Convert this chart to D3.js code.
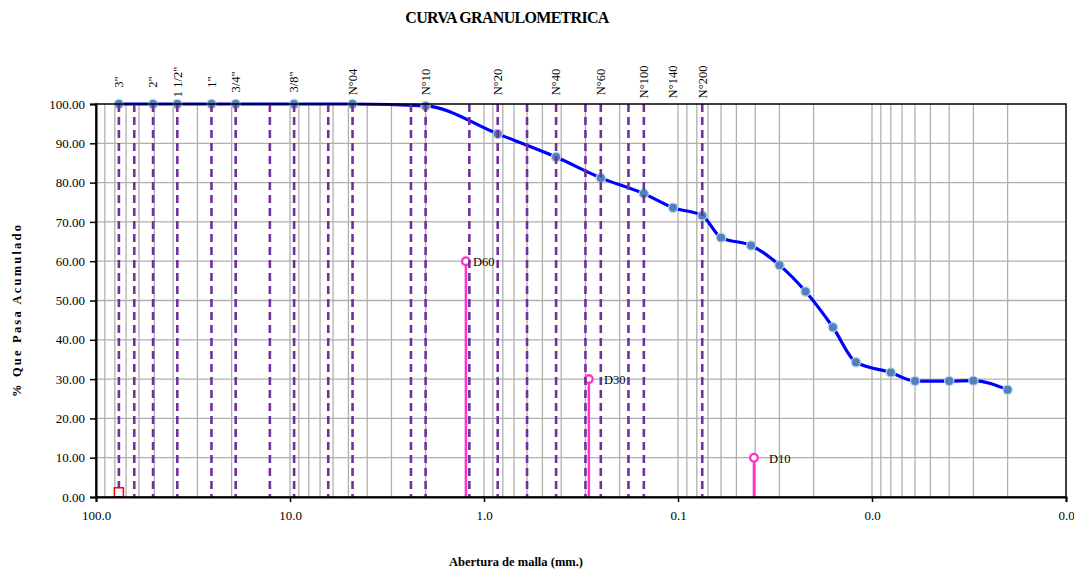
<!DOCTYPE html>
<html>
<head>
<meta charset="utf-8">
<script src="https://cdn.jsdelivr.net/npm/d3@7"></script>
<style>
  html, body { margin: 0; padding: 0; background: #fff; }
  svg { display: block; font-family: "Liberation Serif", "Times New Roman", serif; }
</style>
</head>
<body>
<svg id="chart" width="1074" height="571"></svg>
<script>
// Sieve names written along the top, and the opening (mm) each one sits at
const sieveLabels = ['3"', '2"', '1 1/2"', '1"', '3/4"', '3/8"', 'N°04', 'N°10', 'N°20', 'N°40', 'N°60', 'N°100', 'N°140', 'N°200'];
const sieveLabelMm = [76.2, 50.8, 38.1, 25.4, 19.05, 9.525, 4.76, 2.0, 0.85, 0.425, 0.25, 0.15, 0.106, 0.075];

// Full sieve series drawn as dashed reference lines (mm)
const sieveSeriesMm = [76.2, 63.5, 50.8, 38.1, 25.4, 19.05, 12.7, 9.525, 6.35, 4.76, 2.38, 2.0, 1.19, 0.85, 0.6, 0.425, 0.3, 0.25, 0.18, 0.15, 0.075];

// Grain size distribution: sieve + hydrometer results
const diameterMm = [76.2, 50.8, 38.1, 25.4, 19.05, 9.525, 4.76, 2.0, 0.85, 0.425, 0.25, 0.15, 0.106, 0.075,
                    0.060, 0.042, 0.030, 0.022, 0.0159, 0.0121, 0.0080, 0.0060, 0.0040, 0.0030, 0.0020];
const percentPassing = [100, 100, 100, 100, 100, 100, 100, 99.5, 92.4, 86.5, 81.2, 77.2, 73.6, 71.6,
                        66.0, 64.0, 59.0, 52.3, 43.2, 34.3, 31.7, 29.5, 29.5, 29.6, 27.3];

// Characteristic diameters
const dNames = ['D60', 'D30', 'D10'];
const dPercent = [60, 30, 10];
const dDiameterMm = [1.24, 0.288, 0.0406];

// Origin marker
const originMm = [76.2];
const originPct = [1.2];

// Axis ticks
const xTickValues = [100, 10, 1, 0.1, 0.01, 0.001];
const yTickValues = [0, 10, 20, 30, 40, 50, 60, 70, 80, 90, 100];

const svg = d3.select('#chart');
const plotL = 96, plotR = 1066, plotT = 104, plotB = 497;

const x = d3.scaleLog().domain([100, 0.001]).range([plotL, plotR]);
const y = d3.scaleLinear().domain([0, 100]).range([plotB, plotT]);

// Title
svg.append('text')
  .attr('x', 507).attr('y', 23)
  .attr('text-anchor', 'middle')
  .attr('font-size', 16).attr('font-weight', 'bold')
  .attr('letter-spacing', -0.7)
  .text('CURVA GRANULOMETRICA');

// Gridlines
const grid = svg.append('g').attr('stroke', '#b0b0b0').attr('stroke-width', 1.3);
const minorX = [];
for (let e = -3; e <= 1; e++) {
  for (let k = 1; k <= 9; k++) {
    const v = k * Math.pow(10, e);
    if (v > 0.001 && v < 100) minorX.push(v);
  }
}
grid.selectAll('line.v').data(minorX).join('line')
  .attr('class', 'v')
  .attr('x1', d => x(d)).attr('x2', d => x(d))
  .attr('y1', plotT).attr('y2', plotB);
grid.selectAll('line.h').data(yTickValues.filter(d => d > 0 && d < 100)).join('line')
  .attr('class', 'h')
  .attr('x1', plotL).attr('x2', plotR)
  .attr('y1', d => y(d)).attr('y2', d => y(d));

// Characteristic diameter stems
const dg = svg.append('g');
dg.selectAll('line').data(dPercent).join('line')
  .attr('x1', (d, i) => x(dDiameterMm[i])).attr('x2', (d, i) => x(dDiameterMm[i]))
  .attr('y1', y(0)).attr('y2', d => y(d))
  .attr('stroke', '#ff33cc').attr('stroke-width', 2.5);

// Grading curve
const pts = diameterMm.map((d, i) => [x(d), y(percentPassing[i])]);
svg.append('path')
  .attr('d', d3.line().curve(d3.curveMonotoneX)(pts))
  .attr('fill', 'none').attr('stroke', '#0000ff').attr('stroke-width', 3.2);
svg.append('g').selectAll('circle').data(pts).join('circle')
  .attr('cx', d => d[0]).attr('cy', d => d[1]).attr('r', 4.6)
  .attr('fill', '#4f81bd').attr('stroke', '#b9cde5').attr('stroke-width', 1.3);

// Dashed sieve reference lines
svg.append('g').selectAll('line').data(sieveSeriesMm).join('line')
  .attr('x1', d => x(d)).attr('x2', d => x(d))
  .attr('y1', y(100)).attr('y2', y(0))
  .attr('stroke', '#7030a0').attr('stroke-width', 2.6)
  .attr('stroke-dasharray', '8,5');

// Characteristic diameter markers and labels
dg.selectAll('circle').data(dPercent).join('circle')
  .attr('cx', (d, i) => x(dDiameterMm[i])).attr('cy', d => y(d)).attr('r', 3.8)
  .attr('fill', '#fff').attr('stroke', '#ff33cc').attr('stroke-width', 2.4);
dg.selectAll('text').data(dNames).join('text')
  .attr('x', (d, i) => x(dDiameterMm[i]) + (i === 0 ? 7 : 15))
  .attr('y', (d, i) => y(dPercent[i]) + 5)
  .attr('font-size', 12.5)
  .text(d => d);

// Origin marker
svg.append('g').selectAll('rect').data(originPct).join('rect')
  .attr('x', (d, i) => x(originMm[i]) - 4.5).attr('y', d => y(d) - 4.5)
  .attr('width', 9).attr('height', 9)
  .attr('fill', '#fff').attr('stroke', '#ff0000').attr('stroke-width', 1.5);

// Plot frame
svg.append('rect')
  .attr('x', plotL).attr('y', plotT).attr('width', plotR - plotL).attr('height', plotB - plotT)
  .attr('fill', 'none').attr('stroke', '#000').attr('stroke-width', 1.5);

// Y axis
const yAxis = svg.append('g').attr('transform', `translate(${plotL},0)`)
  .call(d3.axisLeft(y).tickValues(yTickValues).tickFormat(d3.format('.2f')).tickSize(6).tickPadding(5));
yAxis.select('.domain').attr('stroke-width', 2);
yAxis.selectAll('.tick line').attr('stroke-width', 1.5);
yAxis.selectAll('text').attr('font-size', 13).attr('font-family', '"Liberation Serif", serif').attr('fill', '#000');

// X axis
const xAxis = svg.append('g').attr('transform', `translate(0,${plotB})`)
  .call(d3.axisBottom(x).tickValues(xTickValues).tickFormat(d3.format('.1f')).tickSize(5).tickPadding(9));
xAxis.select('.domain').attr('stroke-width', 2);
xAxis.selectAll('.tick line').attr('stroke-width', 1.5);
xAxis.selectAll('text').attr('font-size', 13).attr('font-family', '"Liberation Serif", serif').attr('fill', '#000');

// Sieve names above the plot
svg.append('g').selectAll('text').data(sieveLabels).join('text')
  .attr('transform', (d, i) => `translate(${x(sieveLabelMm[i])},82) rotate(-90)`)
  .attr('text-anchor', 'middle')
  .attr('dy', '0.35em')
  .attr('font-size', 12.5)
  .text(d => d);

// Axis titles
svg.append('text')
  .attr('transform', 'translate(21,310) rotate(-90)')
  .attr('text-anchor', 'middle')
  .attr('font-size', 12.5).attr('font-weight', 'bold')
  .attr('letter-spacing', 2.2)
  .text('% Que Pasa Acumulado');
svg.append('text')
  .attr('x', 516).attr('y', 566)
  .attr('text-anchor', 'middle')
  .attr('font-size', 12.5).attr('font-weight', 'bold')
  .text('Abertura de malla (mm.)');
</script>
</body>
</html>
